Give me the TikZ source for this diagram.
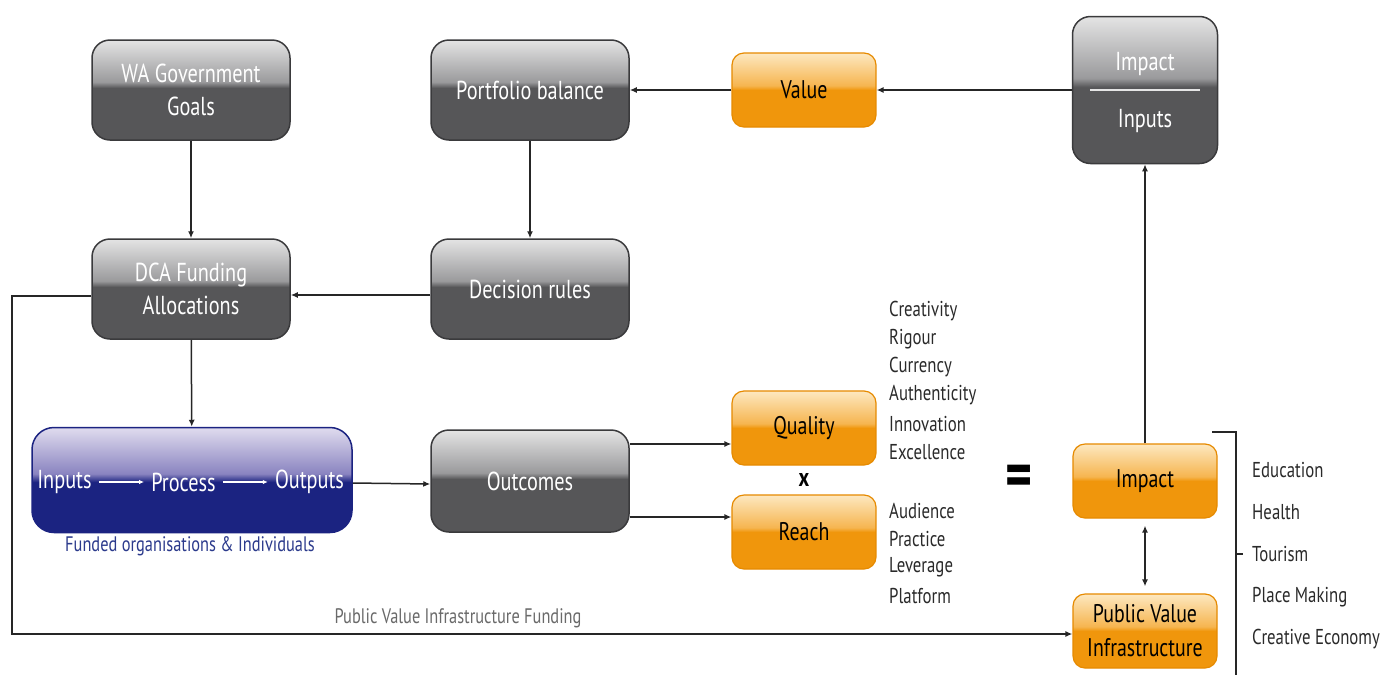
\documentclass[tikz,border=0pt]{standalone}
\usepackage{fontspec}
\setmainfont[FakeStretch=0.78]{PT Sans}
\usetikzlibrary{arrows.meta}
\definecolor{gdark}{HTML}{565658}
\definecolor{gmid}{HTML}{9A9A9C}
\definecolor{glight}{HTML}{E4E4E4}
\definecolor{gborder}{HTML}{3A3A3C}
\definecolor{odark}{HTML}{F0960C}
\definecolor{omid}{HTML}{F6B550}
\definecolor{olight}{HTML}{FDE8C0}
\definecolor{oborder}{HTML}{E68A00}
\definecolor{bdark}{HTML}{1B2381}
\definecolor{bmid}{HTML}{8A84C0}
\definecolor{blight}{HTML}{E0DCEF}
\definecolor{capblue}{HTML}{2B3A8C}
\definecolor{listtext}{HTML}{2A2A2A}
\definecolor{fundgray}{HTML}{6A6A6A}
\pgfdeclareverticalshading{glossgray}{100bp}{color(0bp)=(gdark); color(51bp)=(gdark); color(54bp)=(gmid); color(75bp)=(glight); color(100bp)=(glight)}
\pgfdeclareverticalshading{glossorange}{100bp}{color(0bp)=(odark); color(50bp)=(odark); color(53bp)=(omid); color(75bp)=(olight); color(100bp)=(olight)}
\pgfdeclareverticalshading{glossblue}{100bp}{color(0bp)=(bdark); color(49bp)=(bdark); color(53bp)=(bmid); color(75bp)=(blight); color(100bp)=(blight)}
\tikzset{
  gbox/.style={rounded corners=18pt, draw=gborder, line width=1.5pt, shading=glossgray,
    text=white, minimum width=198pt, minimum height=100pt, align=center,
    font=\fontsize{26}{33}\selectfont},
  obox/.style={rounded corners=12pt, draw=oborder, line width=1.2pt, shading=glossorange,
    text=black, minimum width=144pt, minimum height=74pt, align=center,
    font=\fontsize{25.5}{33}\selectfont},
  bbox/.style={rounded corners=22pt, draw=bdark, line width=1.5pt, shading=glossblue,
    minimum width=320pt, minimum height=105pt},
  btext/.style={text=white, font=\fontsize{26}{30}\selectfont, inner xsep=7pt, inner ysep=1pt},
  listitem/.style={anchor=west, text=listtext, font=\fontsize{21.5}{24}\selectfont, inner sep=0pt},
  arr/.style={-{Latex[length=7pt,width=6pt]}, line width=1.5pt, draw=black!85},
  darr/.style={{Latex[length=7pt,width=6pt]}-{Latex[length=7pt,width=6pt]}, line width=1.5pt, draw=black!85},
  plain/.style={line width=1.5pt, draw=black!85}
}
\begin{document}
\begin{tikzpicture}[x=1pt,y=-1pt]
\useasboundingbox[fill=white] (0,0) rectangle (1394,675);

% top row
\node[gbox] (wa) at (191,90) {WA Government\\Goals};
\node[gbox] (pb) at (530,90) {Portfolio balance};
\node[obox] (val) at (804,90) {Value};
\node[gbox, minimum width=145pt, minimum height=147pt] (ii) at (1145,90) {};
\node[text=white, font=\fontsize{26}{30}\selectfont] (iitop) at (1145,64) {Impact};
\node[text=white, font=\fontsize{26}{30}\selectfont] (iibot) at (1145,121) {Inputs};
\draw[line width=1.5pt, draw=white!90!black] ([xshift=18pt]ii.west) -- ([xshift=-18pt]ii.east);

% second row
\node[gbox] (dca) at (191,289) {DCA Funding\\Allocations};
\node[gbox] (dr) at (530,289) {Decision rules};

% third row
\node[bbox] (fund) at (192,480) {};
\node[btext] (in) at (64.5,482) {Inputs};
\node[btext] (proc) at (183.5,482) {Process};
\node[btext] (out) at (309.5,482) {Outputs};
\draw[-{Latex[length=5pt,width=4.5pt]}, line width=1.2pt, white] (in) -- (proc);
\draw[-{Latex[length=5pt,width=4.5pt]}, line width=1.2pt, white] (proc) -- (out);
\node[text=capblue, font=\fontsize{21}{24}\selectfont] (cap) at (190,546) {Funded organisations \& Individuals};

\node[gbox, minimum height=102pt] (oc) at (530,481) {Outcomes};
\node[obox] (q) at (804,428) {Quality};
\node[obox] (r) at (804,532) {Reach};
\node[font=\fontsize{26}{30}\selectfont\bfseries, text=black] (times) at (804,480) {x};
\node[font=\fontsize{66}{70}\selectfont\bfseries, text=black] (eq) at (1019,481) {=};
\node[obox] (imp) at (1145,481) {Impact};
\node[obox, minimum height=74pt, font=\fontsize{25.5}{34}\selectfont] (pvi) at (1145,631) {Public Value\\Infrastructure};

% lists
\node[listitem] (l1) at (889,311) {Creativity};
\node[listitem] (l2) at (889,339) {Rigour};
\node[listitem] (l3) at (889,367) {Currency};
\node[listitem] (l4) at (889,395) {Authenticity};
\node[listitem] (l5) at (889,424) {Innovation};
\node[listitem] (l6) at (889,452) {Excellence};
\node[listitem] (m1) at (889,511) {Audience};
\node[listitem] (m2) at (889,539) {Practice};
\node[listitem] (m3) at (889,567) {Leverage};
\node[listitem] (m4) at (889,596) {Platform};
\node[listitem] (e1) at (1252,470) {Education};
\node[listitem] (e2) at (1252,512) {Health};
\node[listitem] (e3) at (1252,554) {Tourism};
\node[listitem] (e4) at (1252,597) {Place Making};
\node[listitem] (e5) at (1252,639) {Creative Economy};

% connectors
\draw[arr] (wa) -- (dca);
\draw[arr] (pb) -- (dr);
\draw[arr] (val) -- (pb);
\draw[arr] (ii) -- (val);
\draw[arr] ([yshift=-6pt]dr.west) -- ([yshift=-6pt]dca.east);
\draw[arr] (dca) -- (fund);
\draw[arr] ([yshift=-3pt]fund.east) -- ([yshift=-3pt]oc.west);
\coordinate (oq) at ([yshift=37pt]oc.east);
\coordinate (or) at ([yshift=-36pt]oc.east);
\draw[arr] (oq) -- (oq -| q.west);
\draw[arr] (or) -- (or -| r.west);
\draw[arr] (imp) -- (ii);
\draw[darr] ([yshift=-7pt]imp.south) -- ([yshift=7pt]pvi.north);
\coordinate (fb) at ([yshift=-7pt]dca.west);
\coordinate (pvin) at ([yshift=-3pt]pvi.west);
\draw[arr] (fb) -- (12,296) |- (pvin);
\node[text=fundgray, font=\fontsize{21}{24}\selectfont] (fundlab) at (458,618) {Public Value Infrastructure Funding};

% bracket
\coordinate (bt) at (1212,432);
\draw[plain] (bt) -- (1236,432) -- (1236,675);
\draw[plain] (1236,554) -- (1243,554);
\end{tikzpicture}
\end{document}
